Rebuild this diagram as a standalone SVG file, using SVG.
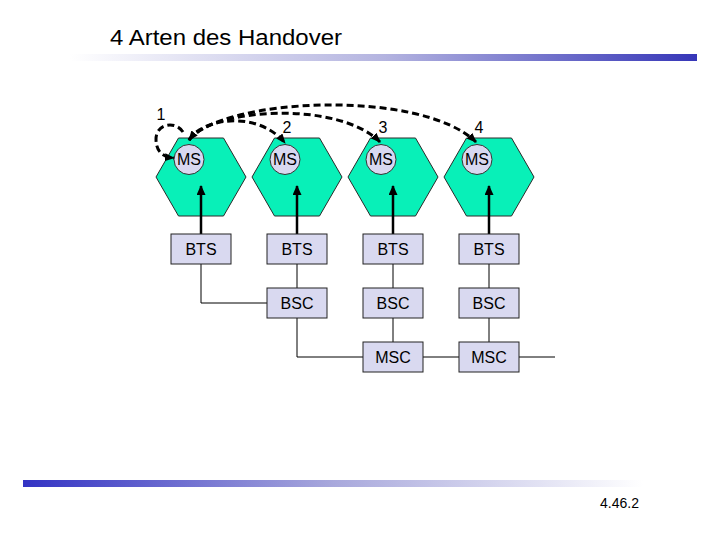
<svg xmlns="http://www.w3.org/2000/svg" width="720" height="540" viewBox="0 0 720 540">
<style>
text{font-family:"Liberation Sans",Arial,sans-serif;fill:#000}
.hex{fill:#08F0B8;stroke:#2a2a2a;stroke-width:1}
.ms{fill:#D8D8F0;stroke:#333;stroke-width:1}
.box{fill:#D9D9F0;stroke:#222;stroke-width:1}
.lbl{font-size:16px;text-anchor:middle}
.num{font-size:16px;text-anchor:middle}
.wire{fill:none;stroke:#000;stroke-width:1}
.up{fill:none;stroke:#000;stroke-width:2.5}
.dash{fill:none;stroke:#000;stroke-width:3;stroke-dasharray:7 4}
</style>
<defs>
<linearGradient id="gTop" x1="0" y1="0" x2="1" y2="0">
<stop offset="0" stop-color="#ffffff"/>
<stop offset="0.5" stop-color="#b4b4e0"/>
<stop offset="1" stop-color="#3636B8"/>
</linearGradient>
<linearGradient id="gBot" x1="0" y1="0" x2="1" y2="0">
<stop offset="0" stop-color="#3333C4"/>
<stop offset="0.5" stop-color="#a8a8dc"/>
<stop offset="1" stop-color="#ffffff"/>
</linearGradient>
<marker id="ah" markerUnits="userSpaceOnUse" markerWidth="10" markerHeight="8" refX="9" refY="4" orient="auto-start-reverse">
<path d="M0,0 L10,4 L0,8 z" fill="#000"/>
</marker>
<marker id="ahUp" markerUnits="userSpaceOnUse" markerWidth="10" markerHeight="9" refX="9" refY="4.5" orient="auto">
<path d="M0,0 L10,4.5 L0,9 z" fill="#000"/>
</marker>
<polygon id="hexShape" points="45,0 22.5,39 -22.5,39 -45,0 -22.5,-39 22.5,-39"/>
</defs>

<rect width="720" height="540" fill="#fff"/>

<g id="title">
<text x="110" y="45" font-size="22" textLength="232" lengthAdjust="spacingAndGlyphs">4 Arten des Handover</text>
<rect x="70" y="54" width="627" height="7" fill="url(#gTop)"/>
</g>

<g id="cell1"><use href="#hexShape" class="hex" x="201" y="177"/></g>
<g id="cell2"><use href="#hexShape" class="hex" x="297" y="177"/></g>
<g id="cell3"><use href="#hexShape" class="hex" x="393" y="177"/></g>
<g id="cell4"><use href="#hexShape" class="hex" x="489" y="177"/></g>

<g id="connectors">
<path class="wire" d="M201,264 V303 H267"/>
<path class="wire" d="M297,264 V288"/>
<path class="wire" d="M393,264 V288"/>
<path class="wire" d="M489,264 V288"/>
<path class="wire" d="M297,318 V357 H363"/>
<path class="wire" d="M393,318 V342"/>
<path class="wire" d="M489,318 V342"/>
<path class="wire" d="M423,357 H459"/>
<path class="wire" d="M519,357 H555"/>
<path class="up" d="M201,234 V186" marker-end="url(#ahUp)"/>
<path class="up" d="M297,234 V186" marker-end="url(#ahUp)"/>
<path class="up" d="M393,234 V186" marker-end="url(#ahUp)"/>
<path class="up" d="M489,234 V186" marker-end="url(#ahUp)"/>
<path class="dash" d="M183,132 C175,120 156,124 156,139 C156,152 163,157 174,158" marker-end="url(#ah)"/>
<path class="dash" d="M189,140 C202,118 258,110 285,143" marker-end="url(#ah)"/>
<path class="dash" d="M189,140 C212,108 338,100 380,142" marker-end="url(#ah)"/>
<path class="dash" d="M189,140 C222,98 420,88 476,142" marker-start="url(#ah)" marker-end="url(#ah)"/>
</g>

<g id="ms1"><circle class="ms" cx="189" cy="159.5" r="15"/><text class="lbl" x="189" y="165">MS</text></g>
<g id="ms2"><circle class="ms" cx="285" cy="159.5" r="15"/><text class="lbl" x="285" y="165">MS</text></g>
<g id="ms3"><circle class="ms" cx="381" cy="159.5" r="15"/><text class="lbl" x="381" y="165">MS</text></g>
<g id="ms4"><circle class="ms" cx="477" cy="159.5" r="15"/><text class="lbl" x="477" y="165">MS</text></g>

<g id="labels">
<text class="num" x="161" y="120">1</text>
<text class="num" x="287" y="133">2</text>
<text class="num" x="383" y="133">3</text>
<text class="num" x="479" y="133">4</text>
</g>

<g id="bts1"><rect class="box" x="171" y="234" width="60" height="30"/><text class="lbl" x="201" y="255">BTS</text></g>
<g id="bts2"><rect class="box" x="267" y="234" width="60" height="30"/><text class="lbl" x="297" y="255">BTS</text></g>
<g id="bts3"><rect class="box" x="363" y="234" width="60" height="30"/><text class="lbl" x="393" y="255">BTS</text></g>
<g id="bts4"><rect class="box" x="459" y="234" width="60" height="30"/><text class="lbl" x="489" y="255">BTS</text></g>

<g id="bsc2"><rect class="box" x="267" y="288" width="60" height="30"/><text class="lbl" x="297" y="309">BSC</text></g>
<g id="bsc3"><rect class="box" x="363" y="288" width="60" height="30"/><text class="lbl" x="393" y="309">BSC</text></g>
<g id="bsc4"><rect class="box" x="459" y="288" width="60" height="30"/><text class="lbl" x="489" y="309">BSC</text></g>

<g id="msc3"><rect class="box" x="363" y="342" width="60" height="30"/><text class="lbl" x="393" y="363">MSC</text></g>
<g id="msc4"><rect class="box" x="459" y="342" width="60" height="30"/><text class="lbl" x="489" y="363">MSC</text></g>

<g id="footer">
<rect x="23" y="480" width="620" height="7" fill="url(#gBot)"/>
<text x="600" y="508" font-size="14">4.46.2</text>
</g>
</svg>
